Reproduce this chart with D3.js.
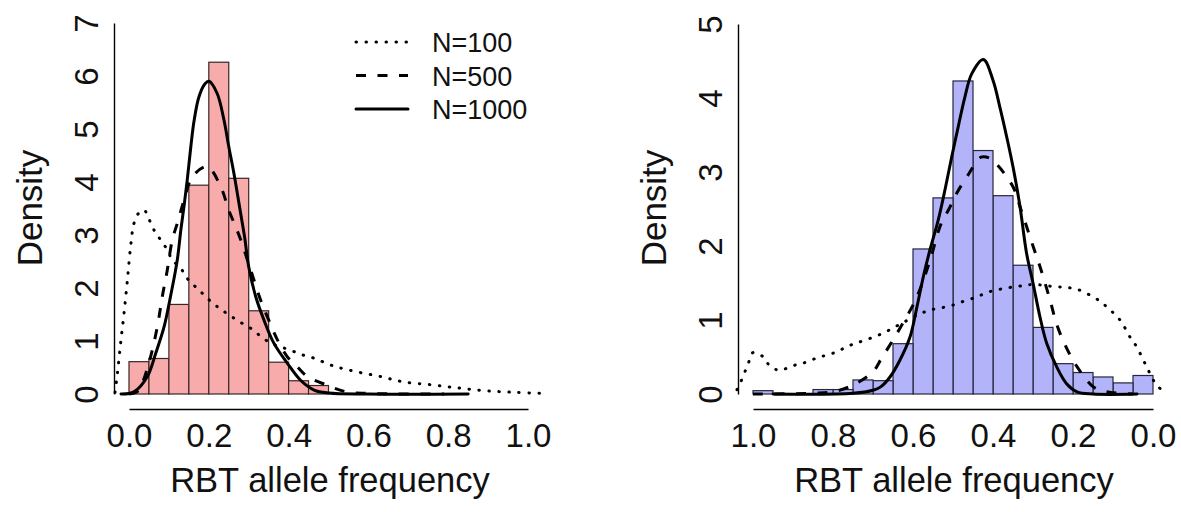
<!DOCTYPE html>
<html>
<head>
<meta charset="utf-8">
<script src="https://cdn.jsdelivr.net/npm/d3@7"></script>
<style>
  body { margin: 0; background: #fff; }
  svg { display: block; }
  text { font-family: "Liberation Sans", Arial, Helvetica, sans-serif; fill: #111; }
</style>
</head>
<body>
<div id="chart"></div>
<script>
/**
 * DATA
 * */
// histogram bins (lower edge, width 0.05) and densities
const leftBins = [0.00, 0.05, 0.10, 0.15, 0.20, 0.25, 0.30, 0.35, 0.40, 0.45];
const leftDens = [0.61, 0.67, 1.69, 3.94, 6.26, 4.07, 1.57, 0.60, 0.25, 0.16];

const rightBins = [0.00, 0.05, 0.10, 0.15, 0.20, 0.25, 0.30, 0.35, 0.40, 0.45,
                   0.50, 0.55, 0.60, 0.65, 0.70, 0.75, 0.80, 0.85, 0.90, 0.95];
const rightDens = [0.25, 0.15, 0.23, 0.29, 0.41, 0.90, 1.74, 2.68, 3.29, 4.23,
                   2.65, 1.96, 0.68, 0.18, 0.19, 0.06, 0.06, 0.00, 0.00, 0.045];

// density curves, [allele frequency, density]
const leftN100 = [[-0.035, 0.03], [-0.029, 0.39], [-0.021, 0.96], [-0.0125, 1.52], [-0.004, 2.15],
  [0.004, 2.78], [0.0125, 3.22], [0.025, 3.42], [0.038, 3.47], [0.05, 3.3], [0.063, 3.09],
  [0.079, 2.91], [0.096, 2.72], [0.1085, 2.53], [0.13, 2.37], [0.146, 2.18], [0.167, 2.02],
  [0.188, 1.87], [0.209, 1.72], [0.23, 1.6], [0.255, 1.47], [0.28, 1.35], [0.305, 1.24],
  [0.33, 1.09], [0.355, 0.96], [0.38, 0.89], [0.41, 0.81], [0.434, 0.74], [0.462, 0.68],
  [0.512, 0.53], [0.57, 0.42], [0.63, 0.33], [0.687, 0.23], [0.763, 0.17], [0.83, 0.11],
  [0.896, 0.06], [0.97, 0.03], [1.04, 0.01]];
const leftN500 = [[0.0, 0.0], [0.02, 0.04], [0.033, 0.2], [0.054, 0.7], [0.071, 1.27],
  [0.0835, 1.84], [0.096, 2.34], [0.1085, 2.91], [0.121, 3.22], [0.138, 3.66], [0.159, 4.1],
  [0.196, 4.29], [0.23, 3.91], [0.25, 3.47], [0.267, 3.16], [0.28, 2.91], [0.305, 2.34],
  [0.33, 1.77], [0.35, 1.4], [0.372, 1.02], [0.397, 0.7], [0.422, 0.51], [0.447, 0.33],
  [0.495, 0.17], [0.545, 0.04], [0.6, 0.01], [0.79, 0.0]];
const leftN1000 = [[-0.02, 0.0], [0.0125, 0.04], [0.046, 0.33], [0.067, 0.77], [0.088, 1.27],
  [0.104, 1.84], [0.121, 2.53], [0.13, 3.1], [0.138, 3.55], [0.146, 4.04], [0.155, 4.67],
  [0.163, 5.15], [0.175, 5.6], [0.19, 5.85], [0.2005, 5.9], [0.221, 5.67], [0.238, 5.17],
  [0.25, 4.67], [0.263, 4.16], [0.28, 3.4], [0.29, 2.95], [0.30, 2.4], [0.3175, 1.84],
  [0.338, 1.4], [0.363, 0.96], [0.397, 0.58], [0.43, 0.26], [0.464, 0.075], [0.5, 0.02],
  [0.6, 0.0], [0.85, 0.0]];

const rightN100 = [[1.04, 0.06], [1.0325, 0.14], [1.012, 0.41], [1.0, 0.56], [0.974, 0.5],
  [0.958, 0.38], [0.933, 0.32], [0.903, 0.38], [0.878, 0.41], [0.849, 0.47], [0.82, 0.52],
  [0.79, 0.57], [0.766, 0.64], [0.74, 0.69], [0.68, 0.81], [0.63, 0.95], [0.58, 1.09],
  [0.553, 1.14], [0.524, 1.17], [0.495, 1.21], [0.47, 1.26], [0.441, 1.31], [0.416, 1.37],
  [0.387, 1.41], [0.358, 1.44], [0.33, 1.46], [0.30, 1.48], [0.245, 1.45], [0.216, 1.44],
  [0.187, 1.41], [0.137, 1.27], [0.112, 1.16], [0.0825, 1.0], [0.0575, 0.77], [0.041, 0.64],
  [0.016, 0.37], [-0.009, 0.12], [-0.034, 0.01]];
const rightN500 = [[1.0, 0.0], [0.85, 0.01], [0.8, 0.03], [0.75, 0.12], [0.70, 0.3],
  [0.68, 0.47], [0.65, 0.73], [0.625, 0.96], [0.60, 1.2], [0.58, 1.45], [0.555, 1.85],
  [0.53, 2.3], [0.51, 2.5], [0.49, 2.72], [0.46, 2.98], [0.43, 3.2], [0.41, 3.19],
  [0.39, 3.1], [0.35, 2.8], [0.33, 2.49], [0.30, 2.0], [0.28, 1.68], [0.2575, 1.27],
  [0.24, 0.93], [0.216, 0.62], [0.19, 0.37], [0.15, 0.1], [0.116, 0.03], [0.05, 0.0]];
const rightN1000 = [[0.95, 0.0], [0.75, 0.01], [0.70, 0.05], [0.68, 0.1], [0.6575, 0.23],
  [0.6325, 0.46], [0.6075, 0.77], [0.59, 1.18], [0.574, 1.59], [0.5575, 1.95], [0.537, 2.35],
  [0.52, 2.76], [0.503, 3.21], [0.487, 3.61], [0.47, 4.02], [0.453, 4.33], [0.424, 4.52],
  [0.40, 4.24], [0.383, 3.88], [0.366, 3.48], [0.35, 3.07], [0.333, 2.55], [0.316, 1.9],
  [0.30, 1.5], [0.2825, 1.04], [0.266, 0.69], [0.241, 0.37], [0.216, 0.14], [0.19, 0.03],
  [0.15, 0.0], [0.04, 0.0]];

const xTicks = [0, 0.2, 0.4, 0.6, 0.8, 1.0];
const leftYTicks = [0, 1, 2, 3, 4, 5, 6, 7];
const rightYTicks = [0, 1, 2, 3, 4, 5];
const legendLabels = ["N=100", "N=500", "N=1000"];

/**
 * CONSTANTS
 * */
const width = 1181, height = 512;
const binWidth = 0.05;
const styles = [
  { dash: "0.5,9.5", cap: "round" },   // N=100 dotted
  { dash: "10,11.5", cap: "butt" },    // N=500 dashed
  { dash: null, cap: "round" }         // N=1000 solid
];

const svg = d3.select("#chart").append("svg")
  .attr("width", width)
  .attr("height", height);

function panel(opts) {
  const x = d3.scaleLinear().domain(opts.xDomain).range(opts.xRange);
  const y = d3.scaleLinear().domain(opts.yDomain).range([394, opts.yTop]);
  const g = svg.append("g");

  // bars
  g.append("g").selectAll("rect")
    .data(opts.bins.map((b, i) => ({ x0: b, x1: b + binWidth, d: opts.dens[i] })).filter(d => d.d > 0))
    .join("rect")
      .attr("x", d => Math.min(x(d.x0), x(d.x1)))
      .attr("width", d => Math.abs(x(d.x1) - x(d.x0)))
      .attr("y", d => y(d.d))
      .attr("height", d => y(0) - y(d.d))
      .attr("fill", opts.fill)
      .attr("stroke", opts.stroke)
      .attr("stroke-width", 1.2);

  // density curves
  const line = d3.line()
    .x(d => x(d[0]))
    .y(d => y(d[1]))
    .curve(d3.curveCatmullRom.alpha(0.5));

  opts.curves.forEach((c, i) => {
    g.append("path")
      .attr("d", line(c))
      .attr("fill", "none")
      .attr("stroke", "#000")
      .attr("stroke-width", 3)
      .attr("stroke-linecap", styles[i].cap)
      .attr("stroke-linejoin", "round")
      .attr("stroke-dasharray", styles[i].dash);
  });

  // x axis
  const xa = g.append("g")
    .attr("transform", "translate(0,409)")
    .call(d3.axisBottom(x).tickValues(xTicks).tickSize(0).tickSizeOuter(0).tickPadding(15)
      .tickFormat(d3.format(".1f")));
  xa.select(".domain").attr("stroke-width", 1.4);
  xa.selectAll("text").attr("font-size", 33).attr("font-family", null);

  // y axis
  const ya = g.append("g")
    .attr("transform", `translate(${opts.yAxisX},0)`)
    .call(d3.axisLeft(y).tickValues(opts.yTicks).tickSize(0).tickSizeOuter(0).tickFormat(d3.format("d")));
  ya.select(".domain").attr("stroke-width", 1.4);
  ya.selectAll("text")
    .attr("x", null).attr("dy", null)
    .attr("text-anchor", "middle")
    .attr("transform", "translate(-16,0) rotate(-90)")
    .attr("font-size", 33).attr("font-family", null);

  // axis titles
  g.append("text")
    .attr("x", opts.titleX).attr("y", 492)
    .attr("text-anchor", "middle")
    .attr("font-size", 34.5)
    .text("RBT allele frequency");
  g.append("text")
    .attr("transform", `translate(${opts.yAxisX - 72},208) rotate(-90)`)
    .attr("text-anchor", "middle")
    .attr("font-size", 35)
    .text("Density");
}

panel({
  xDomain: [0, 1], xRange: [129, 528], yDomain: [0, 7], yTop: 23,
  yAxisX: 114, titleX: 330, yTicks: leftYTicks,
  bins: leftBins, dens: leftDens,
  fill: "#f8abab", stroke: "#3a2626",
  curves: [leftN100, leftN500, leftN1000]
});

panel({
  xDomain: [1, 0], xRange: [753, 1153], yDomain: [0, 5], yTop: 24,
  yAxisX: 738, titleX: 954, yTicks: rightYTicks,
  bins: rightBins, dens: rightDens,
  fill: "#b3b3f9", stroke: "#26263e",
  curves: [rightN100, rightN500, rightN1000]
});

// legend
const legend = svg.append("g");
legendLabels.forEach((lab, i) => {
  const ly = 42 + i * 33.5;
  legend.append("line")
    .attr("x1", 356).attr("x2", 408)
    .attr("y1", ly).attr("y2", ly)
    .attr("stroke", "#000")
    .attr("stroke-width", 3)
    .attr("stroke-linecap", styles[i].cap)
    .attr("stroke-dasharray", styles[i].dash);
  legend.append("text")
    .attr("x", 432).attr("y", ly + 10)
    .attr("font-size", 27)
    .text(lab);
});
</script>
</body>
</html>
